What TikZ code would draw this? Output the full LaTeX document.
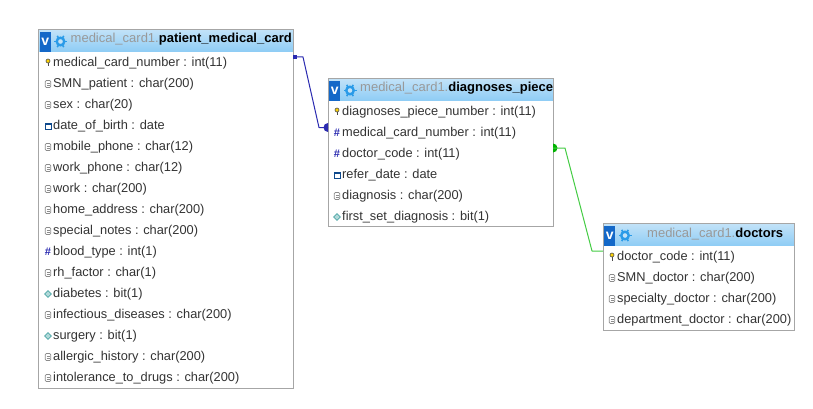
\documentclass[tikz,border=0pt]{standalone}
\usepackage{fontspec}
\setmainfont{Liberation Sans}
\usetikzlibrary{shapes.geometric,calc}
\definecolor{hdrA}{HTML}{C2E2F8}
\definecolor{hdrB}{HTML}{8FCDF5}
\definecolor{bord}{HTML}{A6A6A6}
\definecolor{vblue}{HTML}{1468C8}
\definecolor{gear}{HTML}{2A9BE8}
\definecolor{rel1}{HTML}{2A2AB0}
\definecolor{rel2}{HTML}{44CC44}
\definecolor{txt}{HTML}{333333}
\tikzset{
 x=1pt,y=-1pt,
 tablebox/.style={draw=bord,line width=1pt,fill=white,anchor=north west,inner sep=0pt,outer sep=0pt},
 headbar/.style={top color=hdrA,bottom color=hdrB,draw=none,anchor=north west,inner sep=0pt,outer sep=0pt},
 vtag/.style={fill=vblue,text=white,anchor=north west,inner sep=0pt,minimum width=11pt,minimum height=20pt,font=\bfseries\fontsize{14}{14}\selectfont},
 gearicon/.style={circle,draw=gear,line width=2.4pt,fill=hdrA,inner sep=0pt,minimum size=7.5pt},
 gearteeth/.style={draw=gear,line width=1.6pt},
 rowtext/.style={anchor=base west,inner sep=0pt,text=txt,font=\fontsize{12.8}{14}\selectfont},
 titlegrey/.style={anchor=base west,inner sep=0pt,font=\fontsize{13}{14}\selectfont},
 keyicon/.style={circle,draw=black!70,fill=yellow!70!orange,line width=.6pt,inner sep=0pt,minimum size=4pt},
 fieldicon/.style={rectangle,rounded corners=1.2pt,draw=black!45,fill=white,line width=.7pt,inner sep=0pt,minimum width=5.5pt,minimum height=7pt},
 dateicon/.style={rectangle,draw=vblue!70!black,fill=white,line width=1pt,inner sep=0pt,minimum width=6pt,minimum height=6pt},
 hashicon/.style={anchor=center,inner sep=0pt,text=rel1,font=\bfseries\fontsize{11}{11}\selectfont},
 biticon/.style={diamond,draw=teal!70,fill=teal!30,line width=.6pt,inner sep=0pt,minimum size=7pt},
 relA/.style={draw=rel1,line width=1pt,line join=round},
 relB/.style={draw=rel2,line width=1pt,line join=round},
}
\newcommand{\tablehead}[7]{%
 \node[tablebox,minimum width=#4pt,minimum height=#5pt] (#1) at (#2,#3) {};
 \node[headbar,minimum width=#4pt,minimum height=22pt] (#1h) at (#2,#3) {};
 \node[vtag] (#1v) at ($(#2,#3)+(1,2)$) {v};
 \foreach \a in {0,60,...,300} \draw[gearteeth] ($(#2,#3)+(22,12)+(\a:3)$) -- ($(#2,#3)+(22,12)+(\a:6.5)$);
 \node[gearicon] (#1g) at ($(#2,#3)+(22,12)$) {};
 \node[titlegrey] (#1t) at ($(#2,#3)+(#6,13.5)$) {\textcolor{black!40}{medical\_card1.}\textbf{\fontsize{13}{14}\selectfont #7}};
 \draw[bord,line width=1pt] (#1.north west) rectangle (#1.south east);
}
\newcommand{\rowk}[4]{\node[keyicon] (#1i) at (#2,#3-1) {}; \draw[black!70,line width=.9pt] (#2,#3+1) -- (#2,#3+4.5); \node[rowtext] (#1) at (#2+5,#3+4.3) {#4};}
\newcommand{\rowf}[4]{\node[fieldicon] (#1i) at (#2,#3+1) {}; \draw[black!45,line width=.5pt] (#2-1.5,#3) -- (#2+1.5,#3) (#2-1.5,#3+2) -- (#2+1.5,#3+2); \node[rowtext] (#1) at (#2+5,#3+4.3) {#4};}
\newcommand{\rowd}[4]{\node[dateicon] (#1i) at (#2,#3+1.5) {}; \fill[vblue!70!black] (#2-3,#3-1.5) rectangle (#2+3,#3); \node[rowtext] (#1) at (#2+5,#3+4.3) {#4};}
\newcommand{\rowh}[4]{\node[hashicon] (#1i) at (#2,#3+1) {\#}; \node[rowtext] (#1) at (#2+5,#3+4.3) {#4};}
\newcommand{\rowb}[4]{\node[biticon] (#1i) at (#2,#3+1) {}; \node[rowtext] (#1) at (#2+5,#3+4.3) {#4};}
\begin{document}
\begin{tikzpicture}
\useasboundingbox[fill=white] (0,0) rectangle (813,409);
\tablehead{pa}{38.5}{29.5}{254.5}{358.5}{32}{patient\_medical\_card}
\tablehead{di}{328}{78.5}{225}{148}{32}{diagnoses\_piece}
\tablehead{dc}{603}{223.5}{191}{107}{44}{doctors}
% patient_medical_card
\rowk{p1}{48}{62}{medical\_card\_number : int(11)}
\rowf{p2}{48}{83}{SMN\_patient : char(200)}
\rowf{p3}{48}{104}{sex : char(20)}
\rowd{p4}{48}{125}{date\_of\_birth : date}
\rowf{p5}{48}{146}{mobile\_phone : char(12)}
\rowf{p6}{48}{167}{work\_phone : char(12)}
\rowf{p7}{48}{188}{work : char(200)}
\rowf{p8}{48}{209}{home\_address : char(200)}
\rowf{p9}{48}{230}{special\_notes : char(200)}
\rowh{p10}{48}{251}{blood\_type : int(1)}
\rowf{p11}{48}{272}{rh\_factor : char(1)}
\rowb{p12}{48}{293}{diabetes : bit(1)}
\rowf{p13}{48}{314}{infectious\_diseases : char(200)}
\rowb{p14}{48}{335}{surgery : bit(1)}
\rowf{p15}{48}{356}{allergic\_history : char(200)}
\rowf{p16}{48}{377}{intolerance\_to\_drugs : char(200)}
% diagnoses_piece
\rowk{d1}{337}{111}{diagnoses\_piece\_number : int(11)}
\rowh{d2}{337}{132}{medical\_card\_number : int(11)}
\rowh{d3}{337}{153}{doctor\_code : int(11)}
\rowd{d4}{337}{174}{refer\_date : date}
\rowf{d5}{337}{195}{diagnosis : char(200)}
\rowb{d6}{337}{216}{first\_set\_diagnosis : bit(1)}
% doctors
\rowk{c1}{612}{256}{doctor\_code : int(11)}
\rowf{c2}{612}{277}{SMN\_doctor : char(200)}
\rowf{c3}{612}{298}{specialty\_doctor : char(200)}
\rowf{c4}{612}{319}{department\_doctor : char(200)}
% connectors
\coordinate (a0) at (pa.north east |- 0,57);
\coordinate (a1) at (di.north west |- 0,127.5);
\coordinate (b0) at (di.north east |- 0,148);
\coordinate (b1) at (dc.north west |- 0,251);
\fill[rel1] ($(a0)+(0,-2)$) rectangle ($(a0)+(4,2)$);
\begin{scope}
\clip ($(a1)+(-6,-6)$) rectangle ($(a1)+(0,6)$);
\fill[rel1] (a1) circle (4.5pt);
\end{scope}
\draw[relA] (a0) -- ++(10,0) -- ($(a1)+(-9,0)$) -- (a1);
\begin{scope}
\clip ($(b0)+(0,-6)$) rectangle ($(b0)+(6,6)$);
\fill[green!70!black] (b0) circle (4.5pt);
\end{scope}
\draw[relB] (b0) -- ++(12,0) -- ($(b1)+(-11,0)$) -- (b1);
\end{tikzpicture}
\end{document}
